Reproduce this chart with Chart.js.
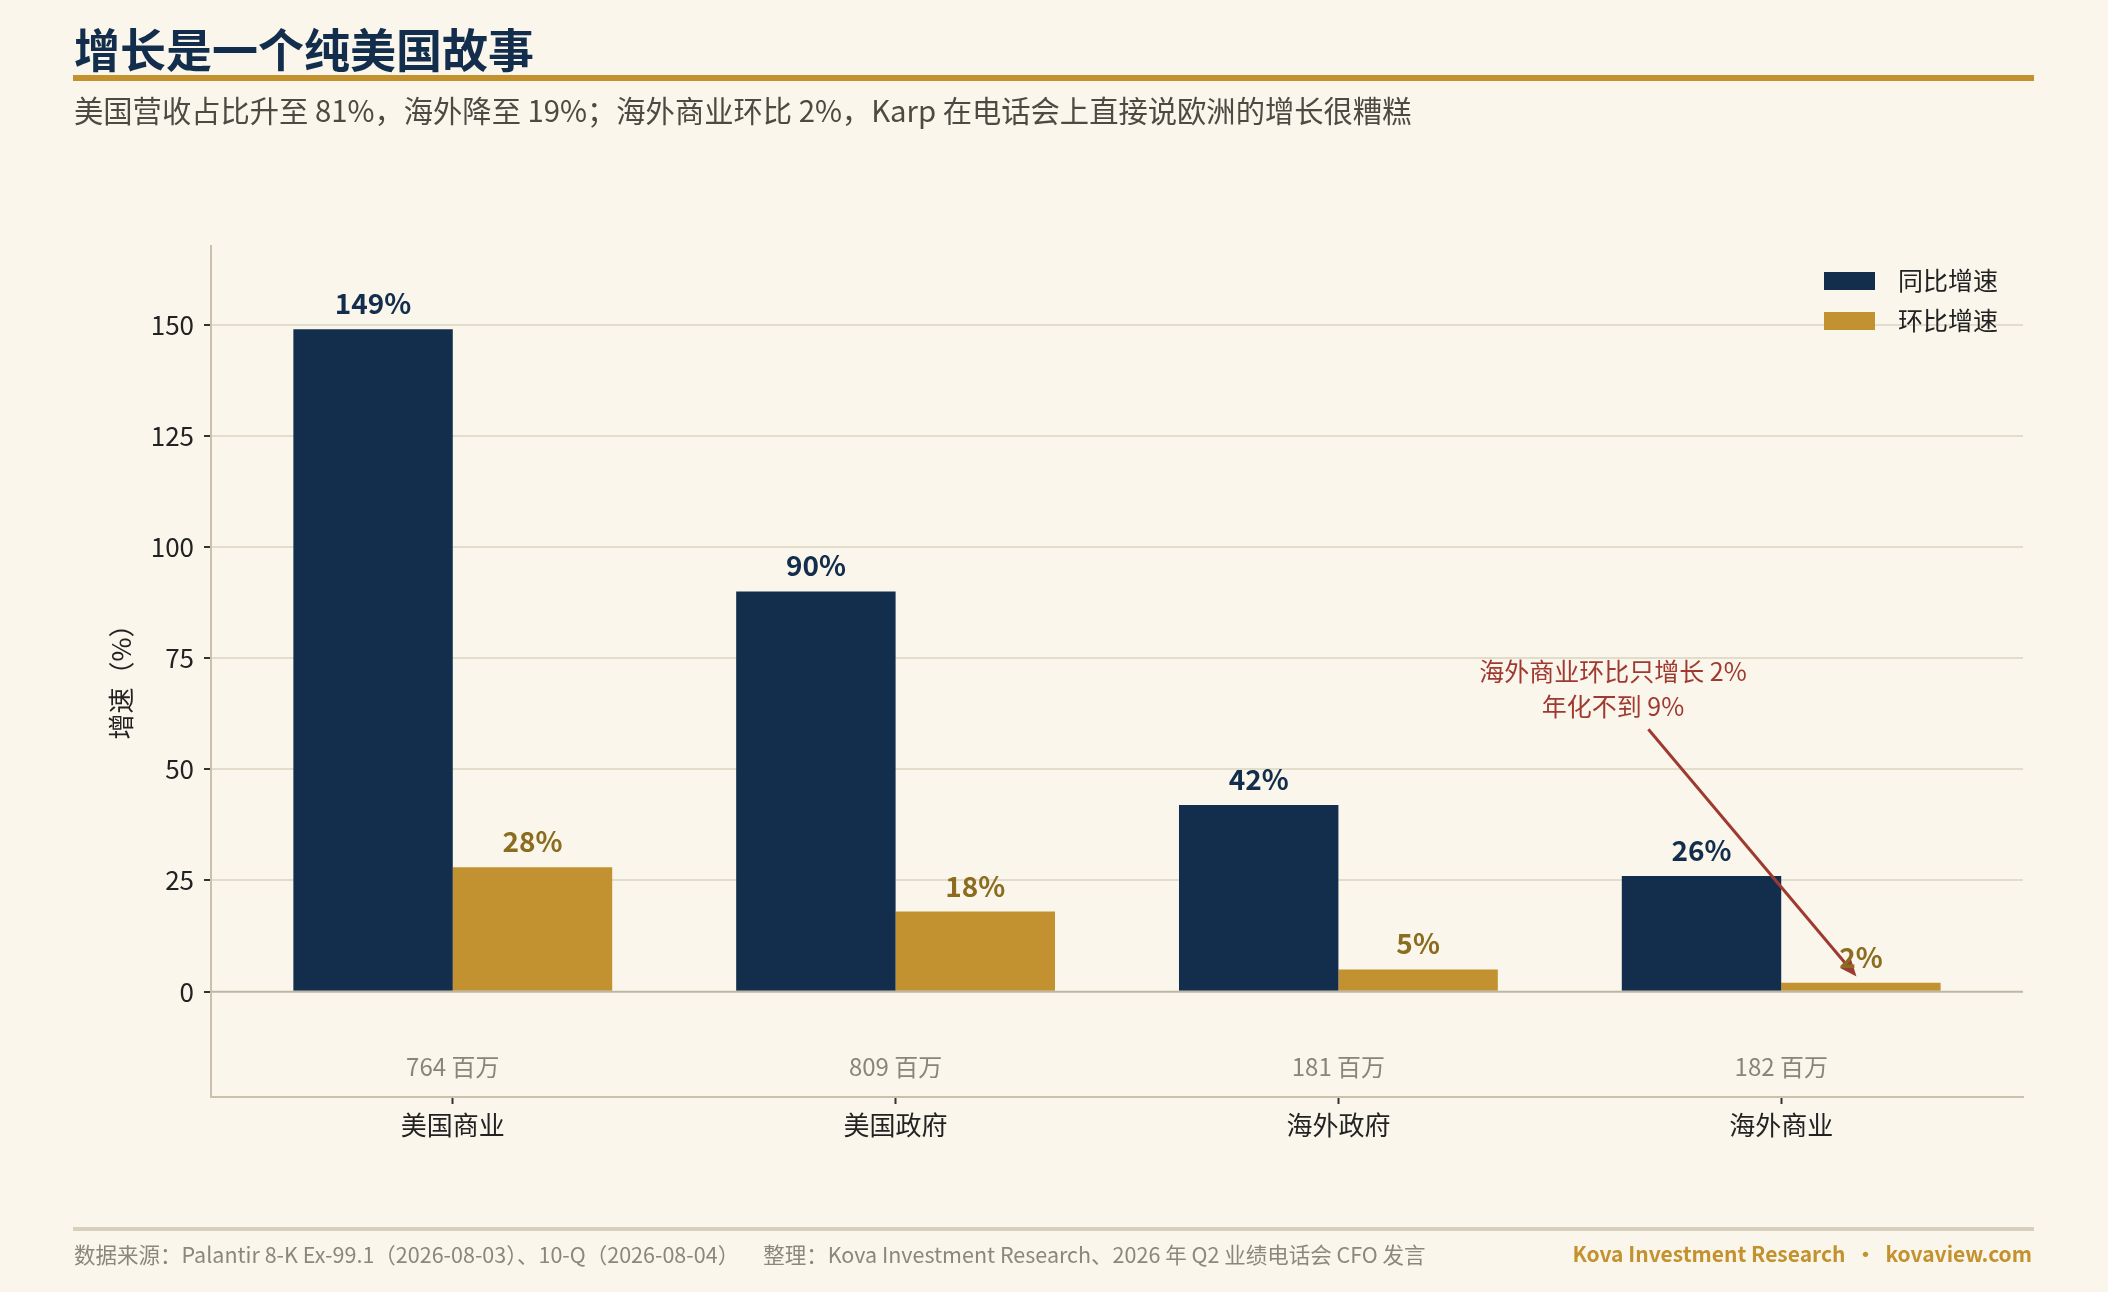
<!DOCTYPE html>
<html>
<head>
<meta charset="utf-8">
<script src="https://cdn.jsdelivr.net/npm/chart.js@4.4.1/dist/chart.umd.min.js"></script>
<style>
  html, body { margin: 0; padding: 0; background: #faf6ec; }
  body { width: 2108px; height: 1292px; position: relative; overflow: hidden;
         font-family: "Noto Sans CJK SC", "Noto Sans", sans-serif; }
  #chart { position: absolute; left: 0; top: 0; }
  .title { position: absolute; left: 74px; top: 24px; font-size: 46px; line-height: 1;
           font-weight: 700; color: #132e4c; white-space: nowrap; }
  .rule { position: absolute; left: 73px; top: 75px; width: 1961px; height: 6px; background: #c3922e; }
  .subtitle { position: absolute; left: 74px; top: 95px; font-size: 29.3px; line-height: 1;
              color: #4d4a42; white-space: nowrap; }
  .footline { position: absolute; left: 73px; top: 1227px; width: 1961px; height: 4px; background: #d8d0bd; }
  .foot { position: absolute; top: 1243px; line-height: 1; white-space: pre; }
  .src { left: 74px; color: #8c877c; font-size: 21.5px; }
  .src .who { margin-left: 24px; }
  .brand { right: 76px; color: #c3922e; font-weight: 700; font-size: 21px; }
</style>
</head>
<body>
<canvas id="chart" width="2108" height="1292"></canvas>
<div class="title">增长是一个纯美国故事</div>
<div class="rule"></div>
<div class="subtitle">美国营收占比升至 81%，海外降至 19%；海外商业环比 2%，Karp 在电话会上直接说欧洲的增长很糟糕</div>
<div class="footline"></div>
<div class="foot src"><span>数据来源：Palantir 8-K Ex-99.1（2026-08-03）、10-Q（2026-08-04）</span><span class="who">整理：Kova Investment Research、2026 年 Q2 业绩电话会 CFO 发言</span></div>
<div class="foot brand">Kova Investment Research  ·  kovaview.com</div>
<script>
const FONT = '"Noto Sans CJK SC", "Noto Sans", sans-serif';
// categories and values
const categories = ["美国商业", "美国政府", "海外政府", "海外商业"];
const revenueLabels = ["764 百万", "809 百万", "181 百万", "182 百万"];
const yoyGrowth = [149, 90, 42, 26];
const qoqGrowth = [28, 18, 5, 2];
const seriesNames = ["同比增速", "环比增速"];
const yTicks = [0, 25, 50, 75, 100, 125, 150];

const NAVY = "#132e4c";
const GOLD = "#c29230";
const labelColors = [NAVY, "#8c6d1f"];

// extra drawing: value labels, revenue notes, zero line, legend, y title, annotation
const extras = {
  id: "extras",
  afterDatasetsDraw(chart) {
    const ctx = chart.ctx;
    const area = chart.chartArea;
    const x = chart.scales.x;
    const y = chart.scales.y;
    ctx.save();

    // zero line on top of the bar bottoms
    const y0 = y.getPixelForValue(0);
    ctx.strokeStyle = "#bdb6a4";
    ctx.lineWidth = 2;
    ctx.beginPath();
    ctx.moveTo(area.left, y0);
    ctx.lineTo(area.right, y0);
    ctx.stroke();

    // annotation arrow
    const sx = x.getPixelForValue(2.70), sy = y.getPixelForValue(59);
    const tx = x.getPixelForValue(3.17), ty = y.getPixelForValue(3.4);
    const ang = Math.atan2(ty - sy, tx - sx);
    const headLen = 17, headW = 7;
    const bx = tx - headLen * Math.cos(ang), by = ty - headLen * Math.sin(ang);
    ctx.strokeStyle = "#9e3a30";
    ctx.fillStyle = "#9e3a30";
    ctx.lineWidth = 3;
    ctx.beginPath();
    ctx.moveTo(sx, sy);
    ctx.lineTo(bx, by);
    ctx.stroke();
    ctx.beginPath();
    ctx.moveTo(tx, ty);
    ctx.lineTo(bx + headW * Math.sin(ang), by - headW * Math.cos(ang));
    ctx.lineTo(bx - headW * Math.sin(ang), by + headW * Math.cos(ang));
    ctx.closePath();
    ctx.fill();

    ctx.textAlign = "center";
    ctx.textBaseline = "middle";
    ctx.font = "25px " + FONT;
    ctx.fillStyle = "#a03a30";
    const ax = x.getPixelForValue(2.62);
    ctx.fillText("海外商业环比只增长 2%", ax, y.getPixelForValue(72.0));
    ctx.fillText("年化不到 9%", ax, y.getPixelForValue(64.1));

    // value labels above bars
    ctx.font = "bold 28px " + FONT;
    ctx.textBaseline = "alphabetic";
    chart.data.datasets.forEach((ds, di) => {
      const meta = chart.getDatasetMeta(di);
      ctx.fillStyle = labelColors[di];
      meta.data.forEach((bar, i) => {
        ctx.fillText(ds.data[i].y + "%", bar.x, bar.y - 15);
      });
    });

    // revenue notes inside the plot, under each group
    ctx.font = "24px " + FONT;
    ctx.fillStyle = "#8a857a";
    ctx.textBaseline = "middle";
    revenueLabels.forEach((t, i) => {
      ctx.fillText(t, x.getPixelForValue(i), y.getPixelForValue(-16.9));
    });

    // legend
    ctx.textAlign = "left";
    ctx.font = "25px " + FONT;
    chart.data.datasets.forEach((ds, di) => {
      const lx = area.right - 199;
      const ly = area.top + 26 + di * 40;
      ctx.fillStyle = ds.backgroundColor;
      ctx.fillRect(lx, ly, 51, 18);
      ctx.fillStyle = "#222222";
      ctx.fillText(ds.label, lx + 74, ly + 8);
    });

    // y axis title
    ctx.translate(121, (area.top + area.bottom) / 2 + 4);
    ctx.rotate(-Math.PI / 2);
    ctx.textAlign = "center";
    ctx.font = "26px " + FONT;
    ctx.fillStyle = "#222222";
    ctx.fillText("增速（%）", 0, 0);

    ctx.restore();
  }
};

new Chart(document.getElementById("chart"), {
  type: "bar",
  plugins: [extras],
  data: {
    datasets: [
      {
        label: seriesNames[0],
        data: yoyGrowth.map((v, i) => ({ x: i, y: v })),
        backgroundColor: NAVY,
      },
      {
        label: seriesNames[1],
        data: qoqGrowth.map((v, i) => ({ x: i, y: v })),
        backgroundColor: GOLD,
      },
    ],
  },
  options: {
    responsive: false,
    animation: false,
    layout: { padding: { top: 246, right: 85, left: 0, bottom: 0 } },
    datasets: { bar: { categoryPercentage: 0.72, barPercentage: 1.0 } },
    plugins: {
      legend: { display: false },
      tooltip: { enabled: false },
    },
    scales: {
      x: {
        type: "linear",
        min: -0.546,
        max: 3.546,
        offset: false,
        afterFit: (s) => { s.height = 195; },
        afterBuildTicks: (s) => { s.ticks = categories.map((_, i) => ({ value: i })); },
        ticks: {
          callback: (v) => categories[v],
          font: { family: FONT, size: 26 },
          color: "#222222",
          padding: 6,
          autoSkip: false,
          maxRotation: 0,
        },
        grid: { offset: false, drawOnChartArea: false, drawTicks: true, tickLength: 7, tickColor: "#333333", tickWidth: 2 },
        border: { display: true, color: "#c9c1ad", width: 2 },
      },
      y: {
        min: -23.7,
        max: 167.7,
        afterFit: (s) => { s.width = 211; },
        afterBuildTicks: (s) => { s.ticks = yTicks.map((v) => ({ value: v })); },
        ticks: {
          font: { family: FONT, size: 26 },
          color: "#222222",
          padding: 10,
        },
        grid: {
          color: (c) => (c.tick && c.tick.value === 0 ? "rgba(0,0,0,0)" : "#e2dccb"),
          lineWidth: 2,
          tickLength: 7,
          tickColor: "#333333",
          tickWidth: 2,
        },
        border: { display: true, color: "#c9c1ad", width: 2 },
      },
    },
  },
});
</script>
</body>
</html>
